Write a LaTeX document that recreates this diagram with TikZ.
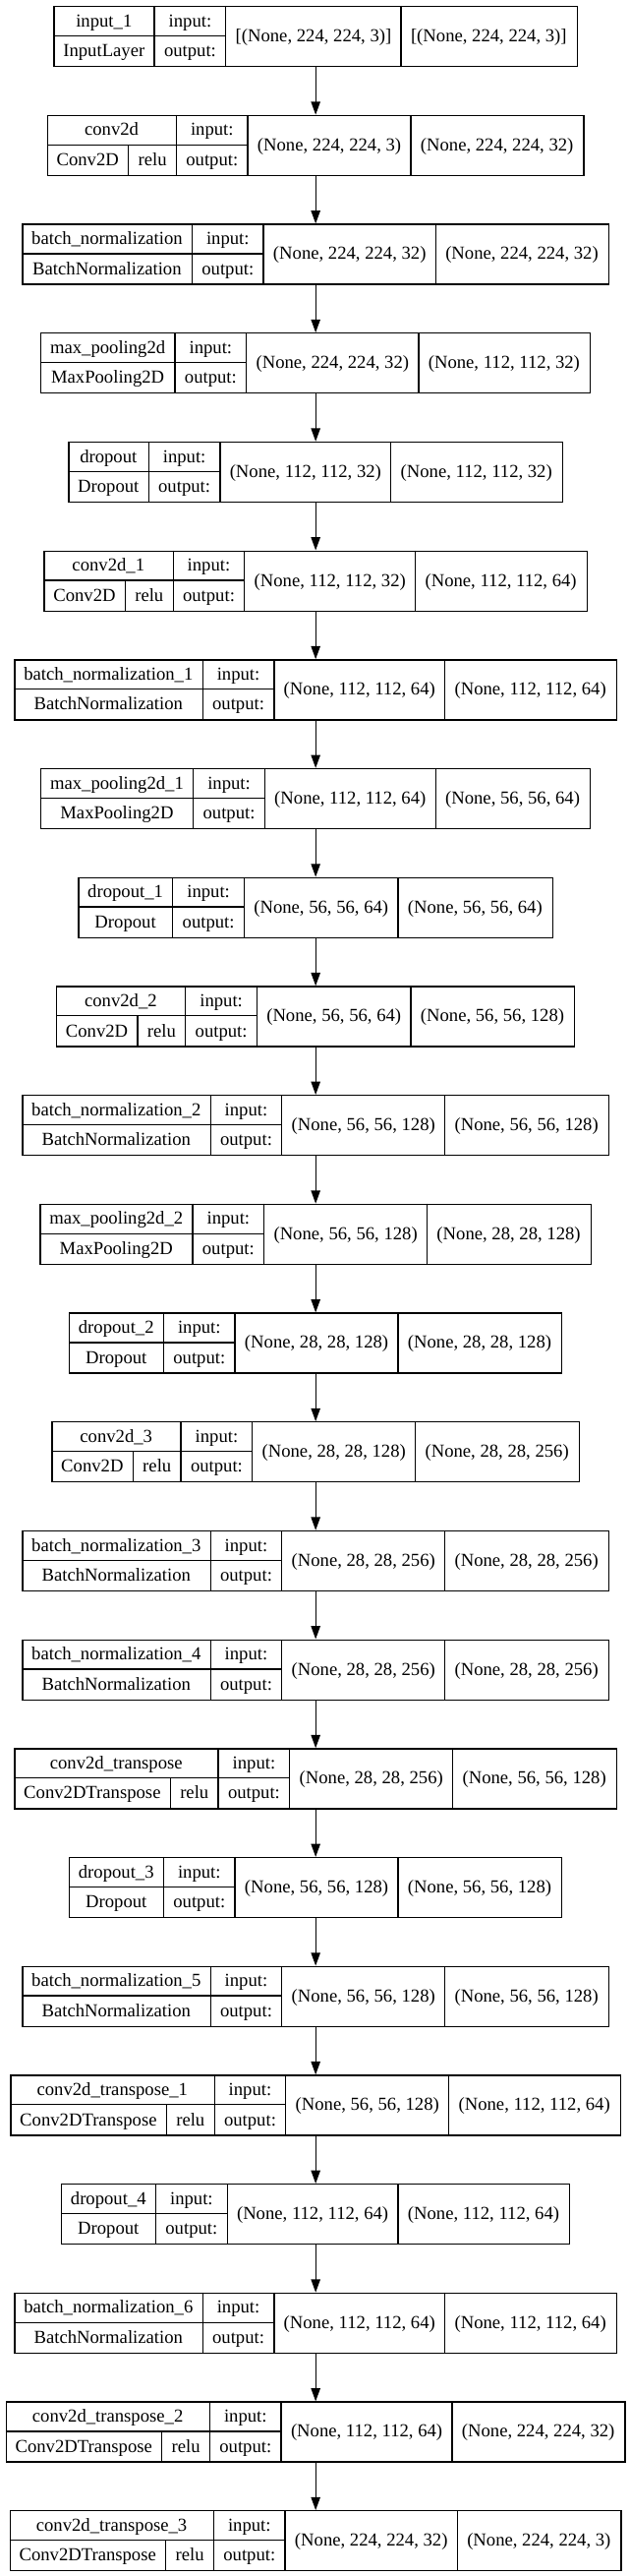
\documentclass[tikz,border=0pt]{standalone}
\usepackage{fontspec}
\setmainfont{Liberation Serif}
\usetikzlibrary{arrows.meta}
\newlength\wN \newlength\wC \newlength\wA \newlength\wIO \newlength\wI \newlength\wO \newlength\wL \newlength\wT \newlength\wX
\newcommand\lfont{\fontsize{14}{16}\selectfont}
\newcommand\padw{14.8pt}
\tikzset{
  boxst/.style={draw=black, line width=1pt, inner sep=0pt, minimum height=45.75pt},
  divst/.style={draw=black, line width=1pt},
  txt/.style={inner sep=0pt, anchor=base, font=\lfont},
  arr/.style={draw=black, line width=1pt, -{Triangle[length=10pt,width=7pt]}}
}
% measure (outside the picture) and store geometry
\newcommand\layer[6]{%
  \settowidth\wN{\normalfont\lfont #2}\addtolength\wN{\padw}%
  \settowidth\wC{\normalfont\lfont #3}\addtolength\wC{\padw}%
  \def\tmpact{#4}%
  \ifx\tmpact\empty \wA=0pt \else \settowidth\wA{\normalfont\lfont #4}\addtolength\wA{\padw}\fi
  \wX=\wC \advance\wX by \wA
  \ifdim\wN>\wX
     \wL=\wN
     \ifx\tmpact\empty \wC=\wN \else
        \advance\wN by -\wX
        \divide\wN by 2
        \advance\wC by \wN \advance\wA by \wN
        \wN=\wL
     \fi
  \else \wL=\wX \fi
  \settowidth\wIO{\normalfont\lfont output:}\addtolength\wIO{\padw}%
  \settowidth\wI{\normalfont\lfont #5}\addtolength\wI{\padw}%
  \settowidth\wO{\normalfont\lfont #6}\addtolength\wO{\padw}%
  \wT=\wL \advance\wT by \wIO \advance\wT by \wI \advance\wT by \wO
  \pgfmathsetmacro\xa{240.375-0.5*\wT}%
  \pgfmathsetmacro\xb{\xa+\wL}%
  \pgfmathsetmacro\xc{\xb+\wIO}%
  \pgfmathsetmacro\xd{\xc+\wI}%
  \pgfmathsetmacro\xe{\xd+\wO}%
  \pgfmathsetmacro\xf{\xa+\wC}%
  \pgfmathsetmacro\xna{(\xa+\xb)/2}%
  \pgfmathsetmacro\xca{(\xa+\xf)/2}%
  \pgfmathsetmacro\xaa{(\xf+\xb)/2}%
  \pgfmathsetmacro\xio{(\xb+\xc)/2}%
  \pgfmathsetmacro\xin{(\xc+\xd)/2}%
  \pgfmathsetmacro\xou{(\xd+\xe)/2}%
  \expandafter\xdef\csname LG#1\endcsname{%
    \def\noexpand\xa{\xa}\def\noexpand\xb{\xb}\def\noexpand\xc{\xc}%
    \def\noexpand\xd{\xd}\def\noexpand\xe{\xe}\def\noexpand\xf{\xf}%
    \def\noexpand\xna{\xna}\def\noexpand\xca{\xca}\def\noexpand\xaa{\xaa}%
    \def\noexpand\xio{\xio}\def\noexpand\xin{\xin}\def\noexpand\xou{\xou}%
    \def\noexpand\wTT{\the\wT}}%
  \expandafter\gdef\csname LT#1\endcsname{\drawlayer{#1}{#2}{#3}{#4}{#5}{#6}}%
}
\newcommand\drawlayer[6]{%
  \csname LG#1\endcsname
  \def\tmpact{#4}%
  \pgfmathsetmacro\yt{-4.5-83.025*#1}%
  \pgfmathsetmacro\yb{\yt-45.75}%
  \pgfmathsetmacro\ym{\yt-22.875}%
  \pgfmathsetmacro\yu{\yt-11.4375-4.5}%
  \pgfmathsetmacro\yl{\ym-11.4375-4.5}%
  \pgfmathsetmacro\yc{\ym-4.5}%
  \node[boxst, minimum width=\wTT, anchor=north west] (L#1) at (\xa,\yt) {};
  \draw[divst] (\xa,\ym) -- (\xc,\ym)
     (\xb,\yt) -- (\xb,\yb)
     (\xc,\yt) -- (\xc,\yb)
     (\xd,\yt) -- (\xd,\yb);
  \node[txt] (L#1name) at (\xna,\yu) {#2};
  \ifx\tmpact\empty
    \node[txt] (L#1cls) at (\xna,\yl) {#3};
  \else
    \draw[divst] (\xf,\ym) -- (\xf,\yb);
    \node[txt] (L#1cls) at (\xca,\yl) {#3};
    \node[txt] (L#1act) at (\xaa,\yl) {#4};
  \fi
  \node[txt] (L#1inl) at (\xio,\yu) {input:};
  \node[txt] (L#1outl) at (\xio,\yl) {output:};
  \node[txt] (L#1ins) at (\xin,\yc) {#5};
  \node[txt] (L#1outs) at (\xou,\yc) {#6};
}
\begin{document}
\layer{0}{input\_1}{InputLayer}{}{[(None, 224, 224, 3)]}{[(None, 224, 224, 3)]}
\layer{1}{conv2d}{Conv2D}{relu}{(None, 224, 224, 3)}{(None, 224, 224, 32)}
\layer{2}{batch\_normalization}{BatchNormalization}{}{(None, 224, 224, 32)}{(None, 224, 224, 32)}
\layer{3}{max\_pooling2d}{MaxPooling2D}{}{(None, 224, 224, 32)}{(None, 112, 112, 32)}
\layer{4}{dropout}{Dropout}{}{(None, 112, 112, 32)}{(None, 112, 112, 32)}
\layer{5}{conv2d\_1}{Conv2D}{relu}{(None, 112, 112, 32)}{(None, 112, 112, 64)}
\layer{6}{batch\_normalization\_1}{BatchNormalization}{}{(None, 112, 112, 64)}{(None, 112, 112, 64)}
\layer{7}{max\_pooling2d\_1}{MaxPooling2D}{}{(None, 112, 112, 64)}{(None, 56, 56, 64)}
\layer{8}{dropout\_1}{Dropout}{}{(None, 56, 56, 64)}{(None, 56, 56, 64)}
\layer{9}{conv2d\_2}{Conv2D}{relu}{(None, 56, 56, 64)}{(None, 56, 56, 128)}
\layer{10}{batch\_normalization\_2}{BatchNormalization}{}{(None, 56, 56, 128)}{(None, 56, 56, 128)}
\layer{11}{max\_pooling2d\_2}{MaxPooling2D}{}{(None, 56, 56, 128)}{(None, 28, 28, 128)}
\layer{12}{dropout\_2}{Dropout}{}{(None, 28, 28, 128)}{(None, 28, 28, 128)}
\layer{13}{conv2d\_3}{Conv2D}{relu}{(None, 28, 28, 128)}{(None, 28, 28, 256)}
\layer{14}{batch\_normalization\_3}{BatchNormalization}{}{(None, 28, 28, 256)}{(None, 28, 28, 256)}
\layer{15}{batch\_normalization\_4}{BatchNormalization}{}{(None, 28, 28, 256)}{(None, 28, 28, 256)}
\layer{16}{conv2d\_transpose}{Conv2DTranspose}{relu}{(None, 28, 28, 256)}{(None, 56, 56, 128)}
\layer{17}{dropout\_3}{Dropout}{}{(None, 56, 56, 128)}{(None, 56, 56, 128)}
\layer{18}{batch\_normalization\_5}{BatchNormalization}{}{(None, 56, 56, 128)}{(None, 56, 56, 128)}
\layer{19}{conv2d\_transpose\_1}{Conv2DTranspose}{relu}{(None, 56, 56, 128)}{(None, 112, 112, 64)}
\layer{20}{dropout\_4}{Dropout}{}{(None, 112, 112, 64)}{(None, 112, 112, 64)}
\layer{21}{batch\_normalization\_6}{BatchNormalization}{}{(None, 112, 112, 64)}{(None, 112, 112, 64)}
\layer{22}{conv2d\_transpose\_2}{Conv2DTranspose}{relu}{(None, 112, 112, 64)}{(None, 224, 224, 32)}
\layer{23}{conv2d\_transpose\_3}{Conv2DTranspose}{relu}{(None, 224, 224, 32)}{(None, 224, 224, 3)}
\begin{tikzpicture}[x=1pt,y=1pt]
\useasboundingbox (0,0) rectangle (480.75,-1964.25);
\foreach \i in {0,...,23}{\csname LT\i\endcsname}
\foreach \i in {0,...,22}{\pgfmathtruncatemacro\j{\i+1}\draw[arr] (L\i.south) -- (L\j.north);}
\end{tikzpicture}
\end{document}
